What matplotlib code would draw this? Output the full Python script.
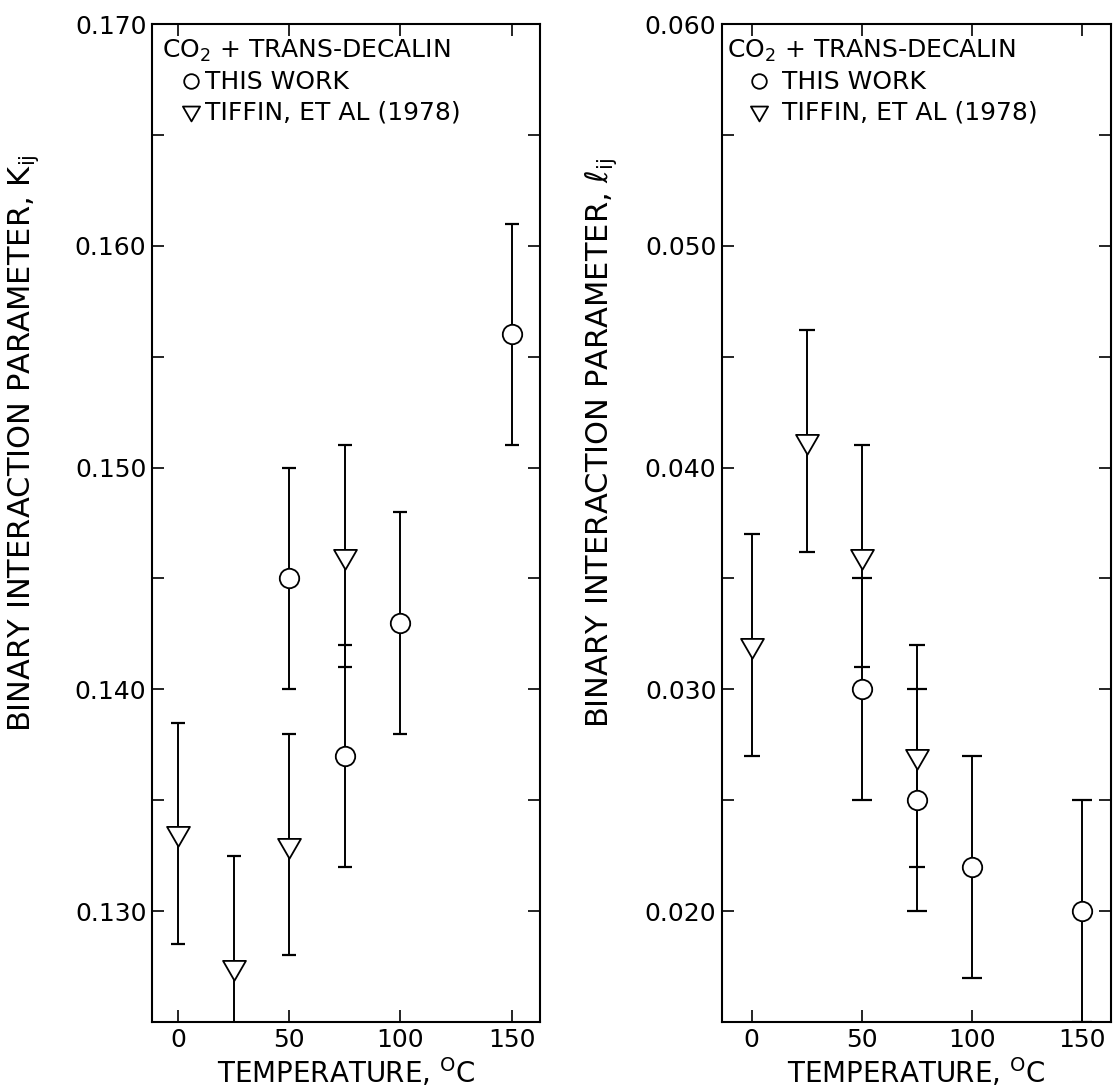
import matplotlib
matplotlib.use("Agg")
import matplotlib.pyplot as plt
from matplotlib.path import Path
from matplotlib.ticker import MultipleLocator, FormatStrFormatter

plt.rcParams["font.family"] = ["DejaVu Sans"]
plt.rcParams["mathtext.fontset"] = "dejavusans"

# CO2 + trans-decalin binary interaction parameters
this_work_T = [50, 75, 100, 150]
this_work_k = [0.145, 0.137, 0.143, 0.156]
this_work_k_err = [0.005, 0.005, 0.005, 0.005]
this_work_l = [0.030, 0.025, 0.022, 0.020]
this_work_l_err = [0.005, 0.005, 0.005, 0.005]

tiffin_T = [0, 25, 50, 75]
tiffin_k = [0.1335, 0.1275, 0.133, 0.146]
tiffin_k_err = [0.005, 0.005, 0.005, 0.005]
tiffin_l = [0.032, 0.0412, 0.036, 0.027]
tiffin_l_err = [0.005, 0.005, 0.005, 0.005]

legend_title = "CO$_2$ + TRANS-DECALIN"
legend_labels = ["THIS WORK", "TIFFIN, ET AL (1978)"]
x_label = r"TEMPERATURE, $^{\mathregular{O}}$C"
k_label = r"BINARY INTERACTION PARAMETER, K$_{\mathregular{ij}}$"
l_label = r"BINARY INTERACTION PARAMETER, $\ell_{\mathregular{ij}}$"
x_ticks = [0, 50, 100, 150]

# open downward equilateral triangle, centred on its centroid
tri = Path([(-1.0, 0.577), (1.0, 0.577), (0.0, -1.155), (-1.0, 0.577)],
           [Path.MOVETO, Path.LINETO, Path.LINETO, Path.CLOSEPOLY])

W, H = 1116, 1091
fig = plt.figure(figsize=(W / 100, H / 100), dpi=100)
ax1 = fig.add_axes([152 / W, 69 / H, 388 / W, 998 / H])
ax2 = fig.add_axes([722 / W, 69 / H, 389 / W, 998 / H])


def draw(ax, T1, y1, e1, T2, y2, e2, cap_c, cap_t):
    ax.errorbar(T2, y2, yerr=e2, fmt="none", ecolor="black",
                elinewidth=1.4, capsize=cap_t, capthick=1.6, zorder=2)
    ax.errorbar(T1, y1, yerr=e1, fmt="none", ecolor="black",
                elinewidth=1.4, capsize=cap_c, capthick=1.6, zorder=2)
    hc, = ax.plot(T1, y1, linestyle="none", marker="o", ms=14,
                  mfc="white", mec="black", mew=1.3, zorder=4)
    ht, = ax.plot(T2, y2, linestyle="none", marker=tri, ms=19,
                  mfc="white", mec="black", mew=1.3, zorder=4)
    return hc, ht


def style(ax, ylim, xlim):
    ax.set_xlim(*xlim)
    ax.set_ylim(*ylim)
    ax.set_xticks(x_ticks)
    ax.yaxis.set_major_locator(MultipleLocator(0.010))
    ax.yaxis.set_minor_locator(MultipleLocator(0.005))
    ax.yaxis.set_major_formatter(FormatStrFormatter("%.3f"))
    ax.tick_params(which="both", direction="in", top=True, right=True,
                   length=8.5, width=1.2, labelsize=18, pad=4)
    for s in ax.spines.values():
        s.set_linewidth(1.5)
    ax.set_xlabel(x_label, fontsize=20, labelpad=3)


hc1, ht1 = draw(ax1, this_work_T, this_work_k, this_work_k_err,
                tiffin_T, tiffin_k, tiffin_k_err, 5.0, 4.7)
style(ax1, (0.125, 0.170), (-11.7, 162.8))
ax1.set_ylabel(k_label, fontsize=22)
ax1.yaxis.set_label_coords(-0.285, 0.58)

hc2, ht2 = draw(ax2, this_work_T, this_work_l, this_work_l_err,
                tiffin_T, tiffin_l, tiffin_l_err, 7.5, 6.0)
style(ax2, (0.015, 0.060), (-13.5, 163.0))
ax2.set_ylabel(l_label, fontsize=22)
ax2.yaxis.set_label_coords(-0.265, 0.58)

for ax, hc, ht, x0, hl, tp in [(ax1, hc1, ht1, 0.025, 2.32, -0.58),
                               (ax2, hc2, ht2, 0.012, 2.56, -0.36)]:
    ax.legend([hc, ht], legend_labels, title=legend_title,
              loc="upper left", bbox_to_anchor=(x0, 0.986),
              borderpad=0, borderaxespad=0, frameon=False,
              alignment="left", fontsize=18, title_fontsize=18,
              handlelength=hl, handletextpad=tp, labelspacing=0.25,
              markerscale=0.75, numpoints=1)

fig.savefig("out.png", dpi=100)
